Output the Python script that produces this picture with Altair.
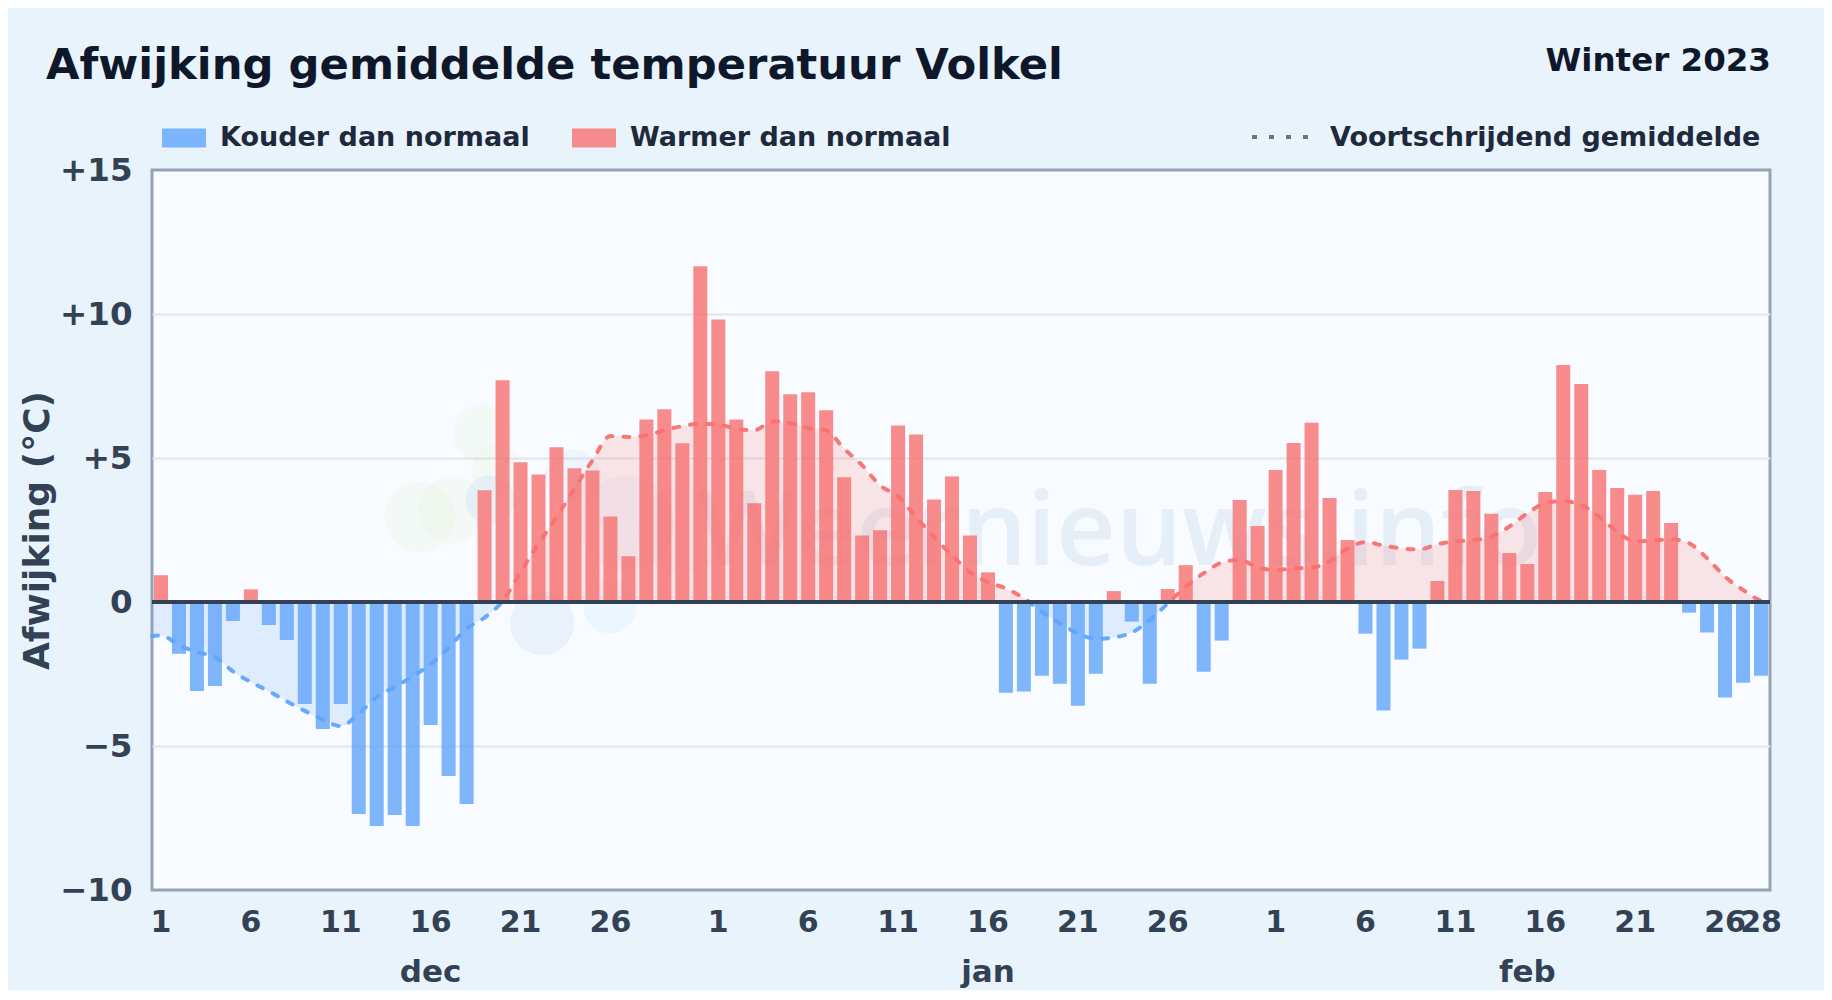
import altair as alt
import pandas as pd

FONT = "DejaVu Sans"

# ---- values (deviation in °C per day) ----
dec_values = [0.93, -1.80, -3.09, -2.92, -0.66, 0.44, -0.80, -1.32, -3.54, -4.41, -3.54, -7.36, -7.78, -7.40, -7.78,
              -4.27, -6.04, -7.01, 3.88, 7.70, 4.85, 4.43, 5.37, 4.64, 4.57, 2.97, 1.59, 6.34, 6.69, 5.51, 11.66]
jan_values = [9.81, 6.34, 3.43, 8.01, 7.21, 7.28, 6.66, 4.33, 2.31, 2.49, 6.13, 5.82, 3.56, 4.36, 2.31, 1.03,
              -3.15, -3.11, -2.56, -2.84, -3.60, -2.49, 0.38, -0.68, -2.84, 0.45, 1.28, -2.42, -1.34, 3.54, 2.64]
feb_values = [4.58, 5.52, 6.22, 3.61, 2.15, -1.10, -3.77, -2.00, -1.62, 0.73, 3.89, 3.85, 3.06, 1.70, 1.32, 3.82,
              8.23, 7.57, 4.58, 3.96, 3.72, 3.85, 2.74, -0.37, -1.06, -3.32, -2.80, -2.56]

dec_avg = [-1.16, -1.50, -1.74, -1.91, -2.41, -2.78, -3.10, -3.45, -3.78, -4.09, -4.31, -3.88, -3.30, -2.95, -2.58,
           -2.16, -1.59, -0.93, -0.54, 0.03, 1.04, 2.03, 2.95, 3.94, 4.92, 5.76, 5.73, 5.79, 5.96, 6.11, 6.19]
jan_avg = [6.16, 6.02, 5.96, 6.27, 6.22, 6.04, 5.96, 5.32, 4.75, 4.05, 3.67, 2.95, 2.26, 1.62, 1.04, 0.69,
           0.47, 0.13, -0.34, -0.74, -1.09, -1.28, -1.23, -1.06, -0.63, -0.05, 0.53, 1.00, 1.37, 1.46, 1.20]
feb_avg = [1.11, 1.17, 1.20, 1.40, 1.86, 2.08, 1.96, 1.86, 1.83, 2.01, 2.11, 2.15, 2.27, 2.62, 3.08, 3.43,
           3.50, 3.37, 2.96, 2.44, 2.11, 2.13, 2.18, 2.04, 1.52, 0.88, 0.42, 0.05]
avg_at_left_edge = -1.19
avg_at_right_edge = 0.0

months = ["dec", "jan", "feb"]
month_lengths = [31, 31, 28]
month_label_days = ["dec-16", "jan-16", "feb-15"]
tick_days = [1, 6, 11, 16, 21, 26]
extra_tick = "feb-28"
y_ticks = [-10, -5, 0, 5, 10, 15]

TITLE = "Afwijking gemiddelde temperatuur Volkel"
PERIOD = "Winter 2023"
COLD = "Kouder dan normaal"
WARM = "Warmer dan normaal"
AVG = "Voortschrijdend gemiddelde"
WATERMARK = "Weernieuws.info"

# faint logo behind the bars: x, y (plot pixels), area, colour, opacity
logo_x = [330, 268, 300, 345, 338, 421, 390, 458, 475, 530]
logo_y = [263, 347, 340, 300, 330, 307, 453, 437, 353, 360]
logo_size = [3400, 5000, 4500, 2500, 2450, 3000, 4100, 2800, 9000, 8000]
logo_color = ["#bbe08a", "#bbe08a", "#bbe08a", "#bbe08a", "#2b7bc0", "#60a5fa", "#2b7bc0", "#60a5fa", "#2563a8", "#2563a8"]
logo_opacity = [0.08, 0.08, 0.06, 0.06, 0.07, 0.07, 0.07, 0.07, 0.04, 0.03]

# ---- tables ----
keys = [f"{m}-{d + 1}" for m, n in zip(months, month_lengths) for d in range(n)]
values = dec_values + jan_values + feb_values
avg = dec_avg + jan_avg + feb_avg
bars = pd.DataFrame({"key": keys, "value": values,
                     "kind": [COLD if v < 0 else WARM for v in values]})
curve = pd.DataFrame({"pos": [0.0] + [i + 0.5 for i in range(len(avg))] + [float(len(avg))],
                      "avg": [avg_at_left_edge] + avg + [avg_at_right_edge]})
tick_values = [f"{m}-{d}" for m in months for d in tick_days] + [extra_tick]

# the curve is red above zero and blue below it: a hard stop at the zero level of its bounding box
hi, lo = curve["avg"].max(), curve["avg"].min()
zero_at = float(hi / (hi - lo))


def split_gradient(top, bottom):
    return alt.Gradient(
        gradient="linear", x1=0, x2=0, y1=0, y2=1,
        stops=[alt.GradientStop(offset=0, color=top),
               alt.GradientStop(offset=zero_at, color=top),
               alt.GradientStop(offset=zero_at, color=bottom),
               alt.GradientStop(offset=1, color=bottom)])


y_scale = alt.Scale(domain=[-10, 15], nice=False, zero=False)
Y_AXIS = alt.Axis(values=y_ticks, grid=True, gridWidth=2, domain=False, ticks=False,
                  gridColor=alt.condition("datum.value == 15 || datum.value == -10",
                                          alt.value("transparent"), alt.value("#e0e6ec")),
                  labelFont=FONT, labelFontSize=32.5, labelFontWeight="bold", labelColor="#334155",
                  labelPadding=20, title="Afwijking (°C)", titleFont=FONT, titleFontSize=36, titleFontWeight="bold",
                  titleColor="#334155", titleX=-96, titleY=360,
                  labelExpr="datum.value > 0 ? '+' + datum.value : (datum.value < 0 ? '−' + abs(datum.value) : '0')")

x_scale = alt.Scale(domain=keys, paddingInner=0.22, paddingOuter=0.11)
X_BAND = alt.X("key:N", scale=x_scale, title=None,
               axis=alt.Axis(values=tick_values, labelExpr="split(datum.value, '-')[1]", labelAngle=0,
                             labelOverlap=False, labelFont=FONT, labelFontSize=30, labelFontWeight="bold",
                             labelColor="#334155", labelPadding=17, ticks=False, domain=False, grid=False))
X_BAND_PLAIN = alt.X("key:N", scale=x_scale, axis=None)
X_CURVE = alt.X("pos:Q", scale=alt.Scale(domain=[0, 90], nice=False, zero=False), axis=None)

watermark = alt.Chart(pd.DataFrame({"t": [WATERMARK]})).mark_text(
    font="Open Sans", fontSize=104, fontWeight=600, align="center", baseline="alphabetic", color="#2563a8", opacity=0.08
).encode(x=alt.value(968), y=alt.value(395), text="t:N")

logo_layers = [
    alt.Chart(pd.DataFrame({"n": [i]})).mark_circle(opacity=o, color=c).encode(
        x=alt.value(px), y=alt.value(py), size=alt.value(s))
    for i, (px, py, s, c, o) in enumerate(zip(logo_x, logo_y, logo_size, logo_color, logo_opacity))
]

area = alt.Chart(curve).mark_area(interpolate="monotone", fill=split_gradient("#f87171", "#60a5fa"), opacity=0.17).encode(
    x=X_CURVE, y=alt.Y("avg:Q", scale=y_scale, axis=Y_AXIS, stack=None))

bar_layer = alt.Chart(bars).mark_bar(opacity=0.8, strokeWidth=0).encode(
    x=X_BAND, y=alt.Y("value:Q", scale=y_scale, axis=None),
    color=alt.Color("kind:N", scale=alt.Scale(domain=[COLD, WARM], range=["#60a5fa", "#f87171"]),
                    legend=alt.Legend(title=None, orient="none", legendX=10, legendY=-54, direction="horizontal",
                                      symbolType="M-1,-0.43H1V0.43H-1Z", symbolSize=1936, symbolStrokeWidth=0,
                                      symbolOpacity=0.8, labelFont=FONT, labelFontSize=27, labelFontWeight="bold",
                                      labelColor="#1e293b", labelOffset=14, columnPadding=42, labelLimit=500)))

line = alt.Chart(curve).mark_line(interpolate="monotone", stroke=split_gradient("#f87171", "#60a5fa"),
                                  strokeWidth=4, strokeDash=[6, 11], strokeCap="round", opacity=0.95).encode(
    x=X_CURVE, y=alt.Y("avg:Q", scale=y_scale, axis=None, stack=None))

zero = alt.Chart(pd.DataFrame({"v": [0]})).mark_rule(color="#334155", strokeWidth=4).encode(
    y=alt.Y("v:Q", scale=y_scale, axis=None))

month_layer = alt.Chart(pd.DataFrame({"key": month_label_days, "label": months})).mark_text(
    font=FONT, fontSize=31, fontWeight="bold", color="#334155", baseline="middle"
).encode(x=X_BAND_PLAIN, y=alt.value(803), text="label:N")


def label(text, x, y, size, color, align="left"):
    return alt.Chart(pd.DataFrame({"t": [text]})).mark_text(
        font=FONT, fontSize=size, fontWeight="bold", color=color, align=align, baseline="middle"
    ).encode(x=alt.value(x), y=alt.value(y), text="t:N")


title = label(TITLE, -106, -104, 43.3, "#0f172a")
period = label(PERIOD, 1619, -109, 32.5, "#0f172a", "right")
avg_label = label(AVG, 1178, -32, 27, "#1e293b")
avg_key = alt.Chart(pd.DataFrame({"t": [AVG]})).mark_rule(color="#64748b", strokeWidth=4, strokeDash=[5, 12]).encode(
    x=alt.value(1100), x2=alt.value(1160), y=alt.value(-33))

chart = alt.layer(
    watermark, *logo_layers, area, bar_layer, line, zero, month_layer, title, period, avg_key, avg_label
).resolve_scale(x="independent").resolve_axis(y="independent").properties(
    width=1618, height=720,
    padding={"left": 144, "top": 162, "right": 54, "bottom": 100},
    autosize=alt.AutoSizeParams(type="none"),
    background="#e8f3fc",
).configure_view(fill="#f8fbff", stroke="#94a3b8", strokeWidth=3)

chart.save("out.html", embed_options={"renderer": "svg", "actions": False})
